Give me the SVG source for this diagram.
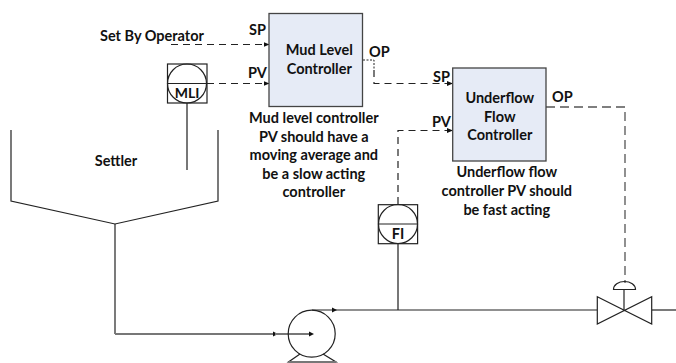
<svg xmlns="http://www.w3.org/2000/svg" width="676" height="363" viewBox="0 0 676 363">
<style>
text{font-family:"Lato","Liberation Sans",sans-serif;font-weight:700;font-size:14.500px;fill:#111}
.m{text-anchor:middle}
.box{fill:#e6ebf6;stroke:#444;stroke-width:1.3}
.ln{fill:none;stroke:#222;stroke-width:1.2}
.gr{fill:none;stroke:#777;stroke-width:2}
.da{fill:none;stroke:#222;stroke-width:1.2;stroke-dasharray:7 5}
.da2{fill:none;stroke:#555;stroke-width:1.3;stroke-dasharray:9 5}
.dot{fill:none;stroke:#222;stroke-width:1;stroke-dasharray:2 1.5}
.sq{fill:#fff;stroke:#222;stroke-width:1.2}
</style>
<defs>
<marker id="a" viewBox="0 0 6 6" refX="5.5" refY="3" markerWidth="6" markerHeight="6" markerUnits="userSpaceOnUse" orient="auto"><path d="M0 0.5L6 3L0 5.5z" fill="#111"/></marker>
</defs>
<g id="connectors">
<path class="da" d="M171 44.500H269" marker-end="url(#a)"/>
<path class="da" d="M207 83.500H269" marker-end="url(#a)"/>
<path class="dot" d="M363 60H374V70"/>
<path class="da" d="M374 70V83.500H452.500" marker-end="url(#a)"/>
<path class="da" d="M398 204V130.500H452.500" marker-end="url(#a)"/>
<path class="da2" d="M546 107H625V283"/>
<path class="gr" d="M187 103V170"/>
<path class="gr" d="M398 244V310"/>
<path class="ln" d="M115 224V334"/>
<path class="gr" d="M115 334H275" />
<path fill="#111" d="M273 331.500L278 334L273 336.500z"/>
<path class="gr" d="M275 334H310"/>
<path fill="#111" d="M309 331.500L314 334L309 336.500z"/>
<path class="ln" d="M312 310H597"/>
<path fill="#111" d="M332 307.500L337 310L332 312.500z"/>
<path class="ln" d="M652 310H676"/>
</g>
<g id="settler"><path class="ln" d="M11 130V201L115 224L218 201V130"/><text class="m" x="116" y="166">Settler</text></g>
<g id="operator"><text x="100" y="40.500">Set By Operator</text></g>
<g id="mud-controller">
<rect class="box" x="269" y="13.500" width="93.500" height="93"/>
<text class="m" x="319.300" y="55">Mud Level</text><text class="m" x="319.300" y="74">Controller</text>
<text x="249" y="35">SP</text><text x="248" y="78">PV</text><text x="369" y="57">OP</text>
<text class="m" x="313.800" y="122.700">Mud level controller</text>
<text class="m" x="313.800" y="141.500">PV should have a</text>
<text class="m" x="313.800" y="160">moving average and</text>
<text class="m" x="313.800" y="178.500">be a slow acting</text>
<text class="m" x="313.800" y="197">controller</text>
</g>
<g id="underflow-controller">
<rect class="box" x="452.700" y="68" width="93.300" height="93"/>
<text class="m" x="499.800" y="103">Underflow</text><text class="m" x="499.800" y="121.500">Flow</text><text class="m" x="499.800" y="140">Controller</text>
<text x="433" y="82">SP</text><text x="432" y="127">PV</text><text x="552" y="102">OP</text>
<text class="m" x="506.800" y="177">Underflow flow</text>
<text class="m" x="506.800" y="196">controller PV should</text>
<text class="m" x="506.800" y="215">be fast acting</text>
</g>
<g id="mli">
<rect class="sq" x="167.500" y="64" width="39.500" height="39"/>
<circle class="ln" cx="187" cy="83.500" r="19.500"/>
<path class="ln" d="M167.500 83.500H207"/>
<text class="m" x="187" y="98" style="font-size:14px">MLI</text>
</g>
<g id="fi">
<rect class="sq" x="378.300" y="204.700" width="39.300" height="39"/>
<circle class="ln" cx="398" cy="224" r="19.500"/>
<path class="ln" d="M378.300 224H417.600"/>
<text class="m" x="398" y="238.500">FI</text>
</g>
<g id="pump">
<circle class="ln" cx="311.700" cy="333.700" r="23.500"/>
<path class="ln" d="M300 354L288.500 362H336L323 354"/>
<path class="gr" d="M288.500 362H336" stroke-width="1.500"/>
</g>
<g id="valve">
<path class="ln" d="M597.300 296.700L651.700 324V296.700L597.300 324z"/>
<path class="ln" d="M624 310V289.500"/>
<path class="ln" d="M613.500 289.500H635.500A11 8 0 0 0 613.500 289.500z"/>
</g>
</svg>
